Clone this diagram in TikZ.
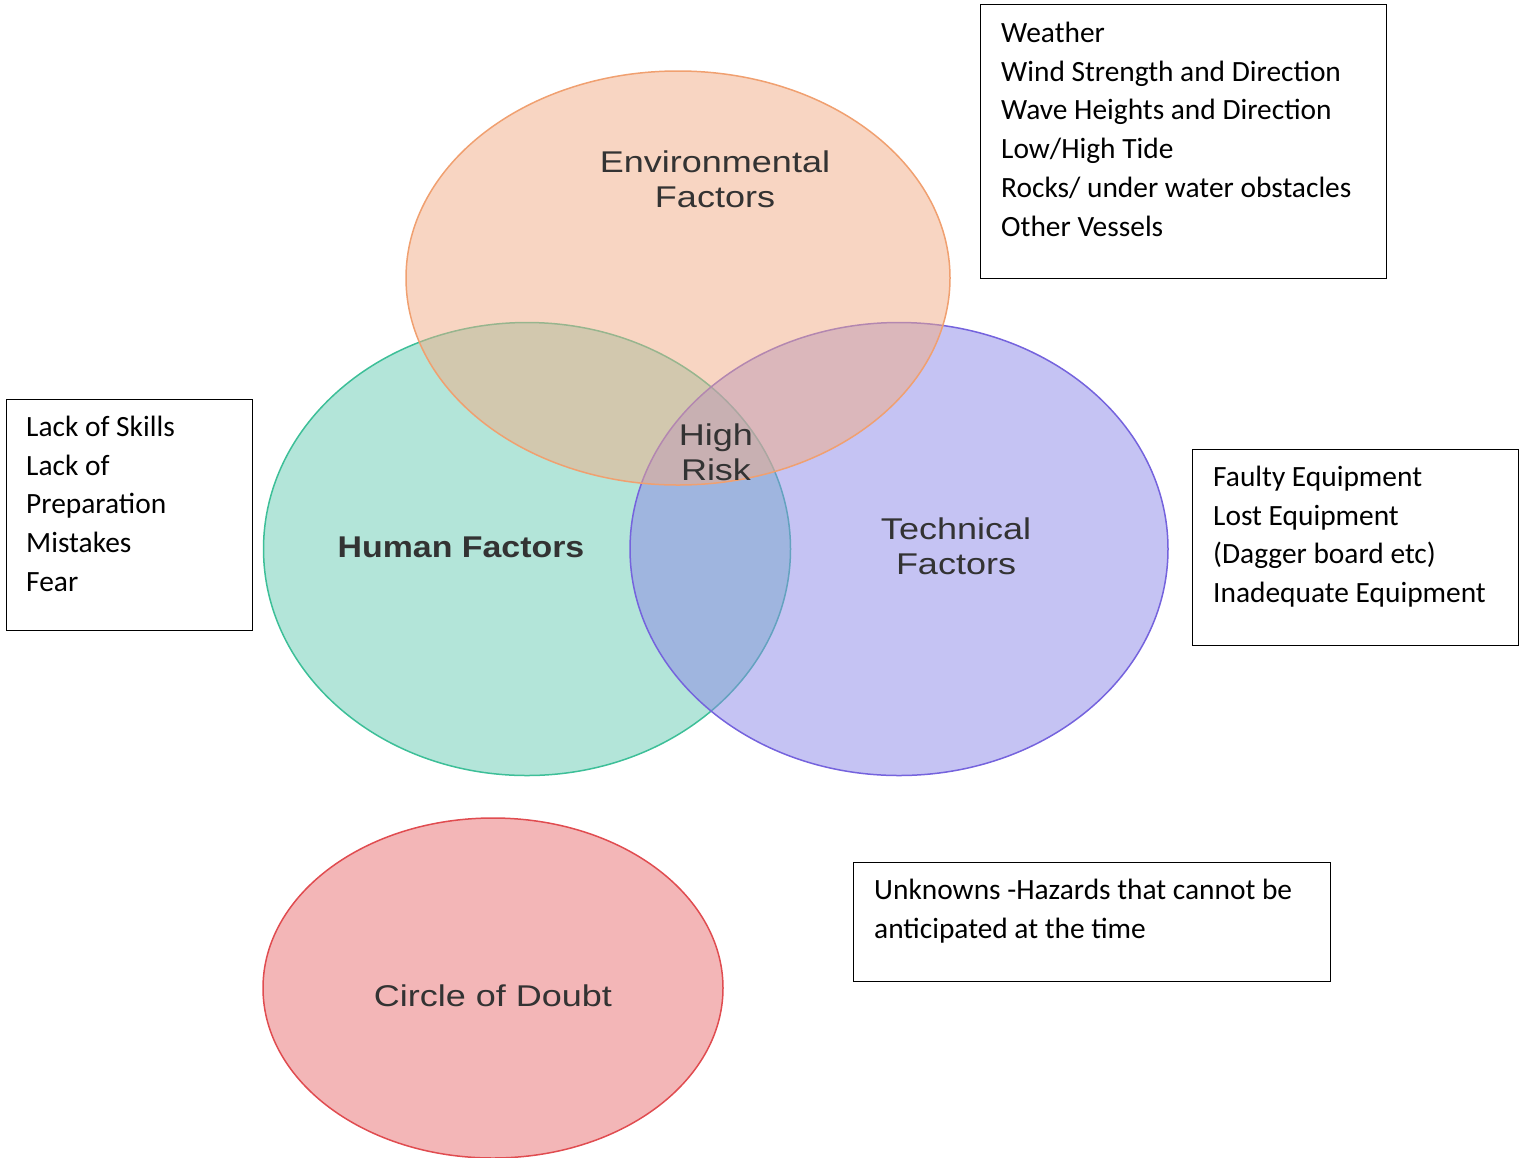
\documentclass[tikz,border=0pt]{standalone}
\usepackage{fontspec}
\setmainfont{Carlito}
\newfontfamily\vennfont[FakeStretch=1.2]{Liberation Sans}
\newfontfamily\vennbold[FakeStretch=1.13]{Liberation Sans Bold}
\definecolor{envF}{HTML}{F2AC85}
\definecolor{envD}{HTML}{F0A070}
\definecolor{humF}{HTML}{67CBB3}
\definecolor{humD}{HTML}{3DBF98}
\definecolor{tecF}{HTML}{8B87E7}
\definecolor{tecD}{HTML}{7563DD}
\definecolor{douF}{HTML}{E86D6F}
\definecolor{douD}{HTML}{E04C50}
\definecolor{vtxt}{HTML}{333333}
\tikzset{
  venn/.style={ellipse, draw=#1D, line width=1.5pt, fill=#1F, fill opacity=0.5, draw opacity=1, inner sep=0pt},
  vlabel/.style={font=\vennfont\fontsize{30}{35}\selectfont, text=vtxt, align=center, inner sep=0pt},
  infobox/.style={draw=black, line width=1.3pt, anchor=north west, inner sep=0pt},
  infotext/.style={font=\fontsize{29.4}{38.8}\selectfont, align=left, anchor=north west, inner sep=0pt, text=black}
}
\usetikzlibrary{shapes.geometric}
\begin{document}
\begin{tikzpicture}[x=1pt,y=-1pt]
\useasboundingbox (0,0) rectangle (1525,1157);
% ellipses
\node[venn=hum, minimum width=527pt, minimum height=453pt] (hum) at (527,549) {};
\node[venn=tec, minimum width=538pt, minimum height=453pt] (tec) at (899,549) {};
\node[venn=env, minimum width=544pt, minimum height=414pt] (env) at (678,278) {};
\node[venn=dou, minimum width=460pt, minimum height=340pt] (dou) at (493,988) {};
% labels
\node[vlabel] (envl) at (715,179) {Environmental\\Factors};
\node[vlabel, font=\vennbold\fontsize{30}{35}\selectfont] (huml) at (461,547) {Human Factors};
\node[vlabel] (risk) at (716,452) {High\\Risk};
\node[vlabel] (tecl) at (956,546) {Technical\\Factors};
\node[vlabel] (doul) at (493,996) {Circle of Doubt};
% boxes
\node[infobox, minimum width=406pt, minimum height=274pt] (envbox) at (980,4) {};
\node[infotext] (envtxt) at (1001,15) {\strut Weather\\Wind Strength and Direction\\Wave Heights and Direction\\Low/High Tide\\Rocks/ under water obstacles\\Other Vessels};
\node[infobox, minimum width=246pt, minimum height=231pt] (humbox) at (6,399) {};
\node[infotext] (humtxt) at (26,409) {\strut Lack of Skills\\Lack of\\Preparation\\Mistakes\\Fear};
\node[infobox, minimum width=326pt, minimum height=196pt] (tecbox) at (1192,449) {};
\node[infotext] (tectxt) at (1213,459) {\strut Faulty Equipment\\Lost Equipment\\(Dagger board etc)\\Inadequate Equipment};
\node[infobox, minimum width=477pt, minimum height=119pt] (unkbox) at (853,862) {};
\node[infotext] (unktxt) at (874,872) {\strut Unknowns -Hazards that cannot be\\anticipated at the time};
\end{tikzpicture}
\end{document}
